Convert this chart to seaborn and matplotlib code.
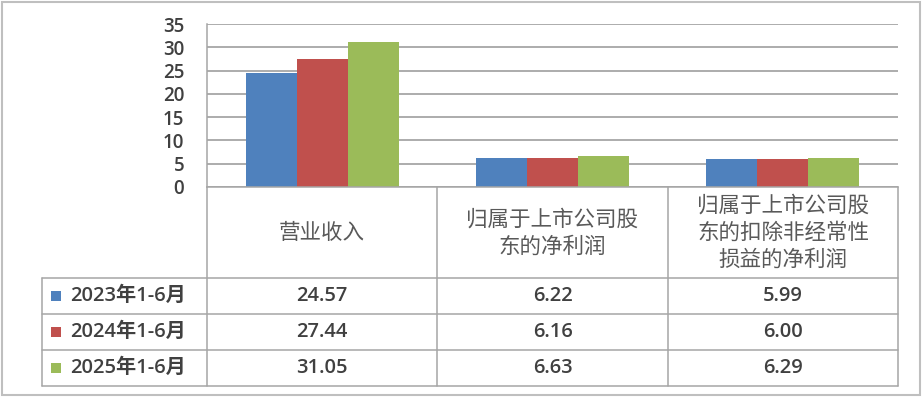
import numpy as np
import pandas as pd
import matplotlib
matplotlib.use('Agg')
import matplotlib.pyplot as plt
import seaborn as sns
from matplotlib.lines import Line2D
from matplotlib.patches import Rectangle

# ---- data ----
categories = ['营业收入',
              '归属于上市公司股\n东的净利润',
              '归属于上市公司股\n东的扣除非经常性\n损益的净利润']
periods = ['2023年1-6月', '2024年1-6月', '2025年1-6月']
v2023 = [24.57, 6.22, 5.99]
v2024 = [27.44, 6.16, 6.00]
v2025 = [31.05, 6.63, 6.29]
colors = ['#4F81BD', '#C0504D', '#9BBB59']
yticks = [0, 5, 10, 15, 20, 25, 30, 35]

series = [v2023, v2024, v2025]
rows = []
for p, vals in zip(periods, series):
    for c, v in zip(categories, vals):
        rows.append({'cat': c, 'period': p, 'value': v})
df = pd.DataFrame(rows)

sns.set_style('white')
plt.rcParams['font.family'] = ['Open Sans', 'Noto Sans CJK SC', 'DejaVu Sans']

W, H = 923, 398
fig = plt.figure(figsize=(W / 100, H / 100), dpi=100)

def fx(x):
    return x / W

def fy(y):
    return 1 - y / H

ax_l, ax_r, ax_t, ax_b = 207, 898, 24, 187
ax = fig.add_axes([fx(ax_l), fy(ax_b), fx(ax_r) - fx(ax_l), fy(ax_t) - fy(ax_b)])

sns.barplot(data=df, x='cat', y='value', hue='period', hue_order=periods,
            order=categories, palette=colors, width=0.664, saturation=1,
            edgecolor='none', linewidth=0, legend=False, ax=ax)

grid_c = '#A6A6A6'
ax.set_xlim(-0.5, 2.5)
ax.set_ylim(0, 35)
ax.set_yticks(yticks)
ax.set_yticklabels([str(t) for t in yticks])
ax.set_xticks([])
ax.set_xlabel('')
ax.set_ylabel('')
ax.yaxis.grid(True, color=grid_c, lw=1.3)
ax.set_axisbelow(True)
for s in ['top', 'right']:
    ax.spines[s].set_visible(False)
for s in ['left', 'bottom']:
    ax.spines[s].set_color(grid_c)
    ax.spines[s].set_linewidth(1.1)
ax.tick_params(axis='y', length=0, pad=16.5, labelsize=13.5, labelcolor='#404040')
for lab in ax.get_yticklabels():
    lab.set_fontweight('semibold')

# ---- data table ----
def hline(x0, x1, y):
    fig.add_artist(Line2D([fx(x0), fx(x1)], [fy(y), fy(y)], transform=fig.transFigure,
                          color=grid_c, lw=1.1))

def vline(x, y0, y1):
    fig.add_artist(Line2D([fx(x), fx(x)], [fy(y0), fy(y1)], transform=fig.transFigure,
                          color=grid_c, lw=1.1))

col_x = [207, 437, 668, 898]
row_y = [278, 314, 350, 386]
leg_x = 42

for x in col_x:
    vline(x, 187, 386)
vline(leg_x, 278, 386)
for y in row_y:
    hline(leg_x, 898, y)

# category header
for i, c in enumerate(categories):
    cx = (col_x[i] + col_x[i + 1]) / 2
    fig.text(fx(cx), fy(233), c, ha='center', va='center', fontsize=15.5,
             color='#595959', linespacing=1.3,
             family=['Noto Sans CJK SC', 'DejaVu Sans'])

# rows
for r, (p, vals) in enumerate(zip(periods, series)):
    cy = (row_y[r] + row_y[r + 1]) / 2
    fig.add_artist(Rectangle((fx(51), fy(cy + 5)), fx(10), 10 / H,
                             transform=fig.transFigure, color=colors[r], lw=0))
    fig.text(fx(70), fy(cy), p, ha='left', va='center', fontsize=14.5,
             color='#404040', fontweight='semibold')
    for i, v in enumerate(vals):
        cx = (col_x[i] + col_x[i + 1]) / 2
        fig.text(fx(cx), fy(cy), f'{v:.2f}', ha='center', va='center',
                 fontsize=14.5, color='#404040', fontweight='semibold')

# outer frame
fig.add_artist(Rectangle((fx(1.5), fy(394.5)), fx(918.5), (394.5 - 1.5) / H,
                         transform=fig.transFigure, fill=False,
                         edgecolor='#BFBFBF', lw=1.5))

fig.savefig('out.png', dpi=100)
